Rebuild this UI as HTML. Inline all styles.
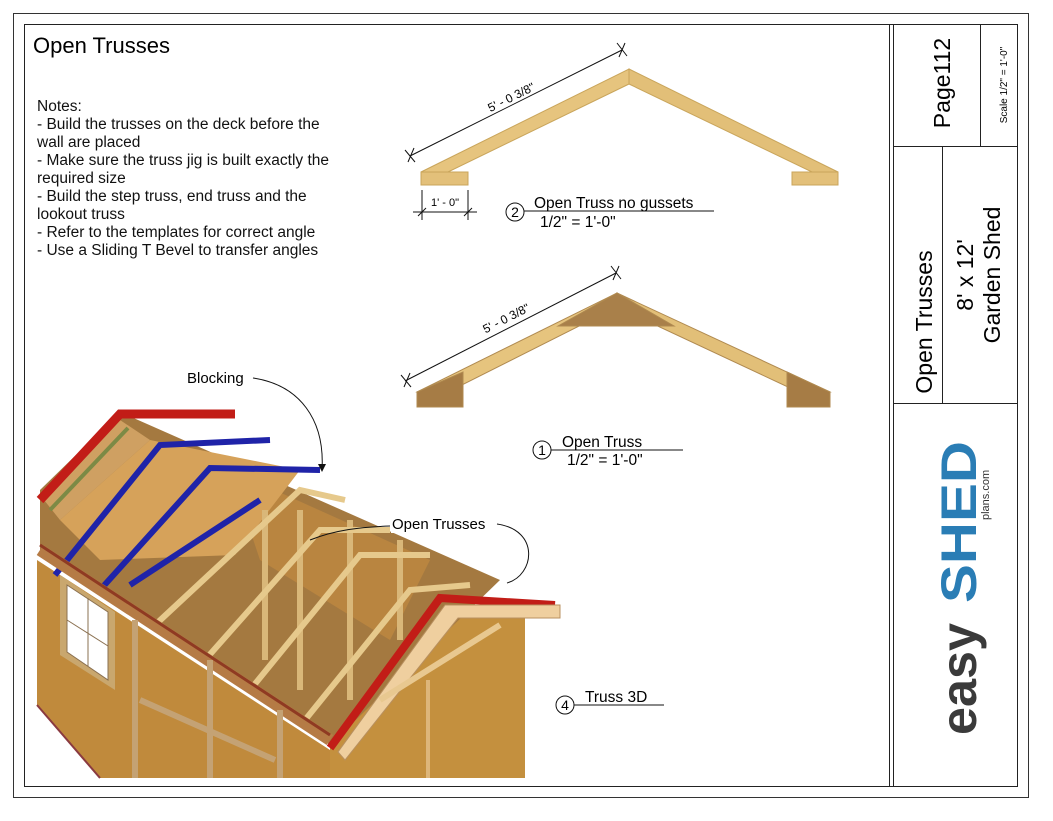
<!DOCTYPE html>
<html><head><meta charset="utf-8"><style>
html,body{margin:0;padding:0;background:#fff;}
svg{display:block;font-family:"Liberation Sans",Arial,sans-serif;}
</style></head><body>
<svg width="1053" height="821" viewBox="0 0 1053 821" xmlns="http://www.w3.org/2000/svg">
<rect x="0" y="0" width="1053" height="821" fill="#fff"/>
<rect x="13.5" y="13.5" width="1015" height="784" fill="none" stroke="#333" stroke-width="1"/>
<rect x="24.5" y="24.5" width="993" height="762" fill="none" stroke="#222" stroke-width="1"/>
<line x1="889.5" y1="24" x2="889.5" y2="786" stroke="#222"/>
<line x1="893.5" y1="24" x2="893.5" y2="786" stroke="#222"/>
<line x1="893" y1="146.5" x2="1017" y2="146.5" stroke="#222"/>
<line x1="893" y1="403.5" x2="1017" y2="403.5" stroke="#222"/>
<line x1="980.5" y1="24" x2="980.5" y2="146" stroke="#222"/>
<line x1="942.5" y1="146" x2="942.5" y2="403" stroke="#222"/>
<text transform="translate(950,83) rotate(-90)" text-anchor="middle" font-size="23">Page112</text>
<text transform="translate(1007,85) rotate(-90)" text-anchor="middle" font-size="10">Scale   1/2" = 1'-0"</text>
<text transform="translate(932,322) rotate(-90)" text-anchor="middle" font-size="23">Open Trusses</text>
<text transform="translate(973,275) rotate(-90)" text-anchor="middle" font-size="23">8' x 12'</text>
<text transform="translate(1000,275) rotate(-90)" text-anchor="middle" font-size="23">Garden Shed</text>
<text transform="translate(976,735) rotate(-90)" font-size="50" font-weight="bold" fill="#3a3a3a" textLength="112" lengthAdjust="spacingAndGlyphs">easy</text>
<text transform="translate(976,603) rotate(-90)" font-size="50" font-weight="bold" fill="#2a7db5" textLength="162" lengthAdjust="spacingAndGlyphs">SHED</text>
<text transform="translate(989,520) rotate(-90)" font-size="11" fill="#333">plans.com</text>

<text x="33" y="53" font-size="22">Open Trusses</text>
<g font-size="15.5" fill="#111">
<text x="37" y="111">Notes:</text>
<text x="37" y="129"> - Build the trusses on the deck before the</text>
<text x="37" y="147">wall are placed</text>
<text x="37" y="165"> - Make sure the truss jig is built exactly the</text>
<text x="37" y="183">required size</text>
<text x="37" y="201"> - Build the step truss, end truss and the</text>
<text x="37" y="219">lookout truss</text>
<text x="37" y="237"> - Refer to the templates for correct angle</text>
<text x="37" y="255"> - Use a Sliding T Bevel to transfer angles</text>
</g>

<!-- Truss 2 -->
<g stroke="#c9a55b" stroke-width="1">
<polygon points="421,172 629,69 629,84 448,172" fill="#e6c47e"/>
<polygon points="629,69 838,172 812,172 629,84" fill="#e2bf78"/>
<rect x="421" y="172" width="47" height="13" fill="#e3c07a"/>
<rect x="792" y="172" width="46" height="13" fill="#e3c07a"/>
</g>
<g stroke="#111" stroke-width="1" fill="none">
<line x1="410" y1="156" x2="622" y2="50"/>
<line x1="405" y1="150" x2="415" y2="162"/><line x1="408" y1="162" x2="414" y2="148"/>
<line x1="617" y1="43" x2="627" y2="56"/><line x1="619" y1="57" x2="625" y2="43"/>
<line x1="422" y1="190" x2="422" y2="220"/><line x1="468" y1="190" x2="468" y2="220"/>
<line x1="413" y1="212" x2="477" y2="212"/>
<line x1="418" y1="216" x2="426" y2="208"/><line x1="464" y1="216" x2="472" y2="208"/>
</g>
<text transform="translate(513,101) rotate(-26.5)" text-anchor="middle" font-size="12">5' - 0 3/8"</text>
<text x="445" y="206" text-anchor="middle" font-size="11">1' - 0"</text>
<circle cx="515" cy="212" r="9" fill="none" stroke="#111"/>
<text x="515" y="217" text-anchor="middle" font-size="14">2</text>
<line x1="524" y1="211" x2="714" y2="211" stroke="#111"/>
<text x="534" y="208" font-size="15.5">Open Truss no gussets</text>
<text x="540" y="227" font-size="15.5">1/2" = 1'-0"</text>

<!-- Truss 1 -->
<g stroke="#b08a50" stroke-width="1">
<polygon points="417,392 617,293 617,307 442,395" fill="#e6c47e"/>
<polygon points="617,293 830,392 805,395 617,307" fill="#e2bf78"/>
<polygon points="558,326 617,293 674,326" fill="#a9804a"/>
<polygon points="417,392 463,372 463,407 417,407" fill="#a67c45"/>
<polygon points="787,372 830,392 830,407 787,407" fill="#a67c45"/>
</g>
<g stroke="#111" stroke-width="1" fill="none">
<line x1="405" y1="381" x2="616" y2="273"/>
<line x1="401" y1="375" x2="411" y2="387"/><line x1="404" y1="387" x2="410" y2="373"/>
<line x1="611" y1="266" x2="621" y2="279"/><line x1="613" y1="280" x2="619" y2="266"/>
</g>
<text transform="translate(508,322) rotate(-27)" text-anchor="middle" font-size="12">5' - 0 3/8"</text>
<circle cx="542" cy="450" r="9" fill="none" stroke="#111"/>
<text x="542" y="455" text-anchor="middle" font-size="14">1</text>
<line x1="551" y1="450" x2="683" y2="450" stroke="#111"/>
<text x="562" y="447" font-size="15.5">Open Truss</text>
<text x="567" y="465" font-size="15.5">1/2" = 1'-0"</text>

<circle cx="565" cy="705" r="9" fill="none" stroke="#111"/>
<text x="565" y="710" text-anchor="middle" font-size="14">4</text>
<line x1="574" y1="705" x2="664" y2="705" stroke="#111"/>
<text x="585" y="702" font-size="15.5">Truss 3D</text>

<!-- Shed 3D -->
<g>
<polygon points="37,560 330,750 330,778 100,778 37,705" fill="#c08a3c"/>
<polygon points="330,745 445,605 525,612 525,778 330,778" fill="#c4903e"/>
<polygon points="120,412 500,580 330,745 40,555 40,490" fill="#a47940"/>
<polygon points="230,470 430,560 390,640 260,560" fill="#b98540"/>
<polygon points="60,520 150,440 300,470 235,555 100,560" fill="#d6a25a"/>
<polygon points="40,495 120,420 150,440 60,520" fill="#cfa062"/>
<g stroke="#d9b779" stroke-width="6">
<line x1="265" y1="510" x2="265" y2="660"/><line x1="300" y1="510" x2="300" y2="690"/>
<line x1="350" y1="520" x2="350" y2="700"/><line x1="400" y1="540" x2="400" y2="640"/>
</g>
<g stroke="#e6c98c" stroke-width="6" fill="none">
<polyline points="155,625 300,490 345,500"/>
<polyline points="205,660 320,530 390,530"/>
<polyline points="250,690 360,555 430,555"/>
<polyline points="305,720 410,590 470,585"/>
</g>
<g stroke="#1f23a8" stroke-width="6" fill="none">
<polyline points="55,575 160,445 270,440"/>
<polyline points="100,590 210,468 320,470"/>
<line x1="130" y1="585" x2="260" y2="500"/>
</g>
<polyline points="40,500 120,414 235,414" stroke="#c21d17" stroke-width="9" fill="none"/>
<polyline points="50,510 128,428" stroke="#7c8a45" stroke-width="4" fill="none"/>
<line x1="40" y1="550" x2="330" y2="740" stroke="#b57b45" stroke-width="12"/>
<line x1="40" y1="545" x2="330" y2="735" stroke="#8f3a22" stroke-width="3"/>
<polyline points="330,748 440,598 555,605" stroke="#c21d17" stroke-width="8" fill="none"/>
<polygon points="445,605 560,605 560,618 458,618 345,760 338,752" fill="#efcf9f" stroke="#b89060" stroke-width="1"/>
<line x1="380" y1="700" x2="500" y2="625" stroke="#e8c890" stroke-width="6"/>
<line x1="428" y1="680" x2="428" y2="778" stroke="#ddb67a" stroke-width="4"/>
<polygon points="60,575 115,612 115,690 60,655" fill="#c9a76e"/>
<polygon points="67,585 108,612 108,680 67,652" fill="#fff" stroke="#8a7050"/>
<line x1="88" y1="598" x2="88" y2="666" stroke="#8a7050"/>
<line x1="67" y1="620" x2="108" y2="646" stroke="#8a7050"/>
<g stroke="#c4a274" stroke-width="6">
<line x1="135" y1="620" x2="135" y2="778"/><line x1="210" y1="660" x2="210" y2="778"/>
<line x1="280" y1="710" x2="280" y2="778"/>
<line x1="140" y1="700" x2="275" y2="760"/>
</g>
<line x1="37" y1="705" x2="100" y2="778" stroke="#8a3a40" stroke-width="2"/>
</g>
<text x="187" y="383" font-size="15">Blocking</text>
<path d="M253,378 C300,385 325,420 322,470" fill="none" stroke="#111"/>
<polygon points="318,464 322,472 326,464" fill="#111"/>
<rect x="391" y="515" width="102" height="18" fill="#fff"/>
<text x="392" y="529" font-size="15">Open Trusses</text>
<path d="M390,526 C360,527 335,530 310,540" fill="none" stroke="#111"/>
<path d="M497,524 C540,530 535,575 507,583" fill="none" stroke="#111"/>
</svg>
</body></html>
